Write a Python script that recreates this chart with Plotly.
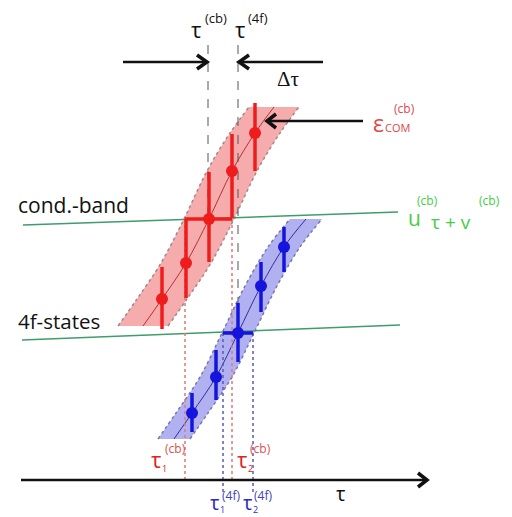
import plotly.graph_objects as go

# ---- diagram data (tau horizontal, energy vertical; units = diagram units) ----
red_tau = [162, 186, 209, 232, 255]
red_E = [218, 254, 298, 346, 384]
red_err_up = [32, 44, 47, 37, 30]
red_err_dn = [30, 35, 43, 47, 38]
red_xerr_lo = [0, 0, 24, 0, 0]
red_xerr_hi = [0, 0, 23, 0, 0]

blue_tau = [192, 216, 238, 261, 284]
blue_E = [104, 140, 184, 231, 270]
blue_err_up = [20, 27, 30, 24, 20]
blue_err_dn = [19, 23, 29, 26, 25]
blue_xerr_lo = [0, 0, 15, 0, 0]
blue_xerr_hi = [0, 0, 15, 0, 0]

red_band_tau = [143, 162, 186, 209, 232, 255, 274]
red_band_E = [191, 218, 254, 298, 346, 384, 410]
red_half = 25
blue_band_tau = [174, 192, 216, 238, 261, 284, 306]
blue_band_E = [78, 104, 140, 184, 231, 270, 298]
blue_half = 16

cb_line_tau = [23, 398]
cb_line_E = [292, 305]
f4_line_tau = [22, 400]
f4_line_E = [177, 192]

tau_cb, tau_4f = 208, 238
tau1_cb, tau2_cb = 185, 232
tau1_4f, tau2_4f = 223, 253
E_top = 472
E_axis = 37
E_bar_red = 298
E_bar_blue = 184

RED = "#ee1c1c"
BLUE = "#1414dc"
GREEN_LINE = "#3f9c6c"
GREEN_TXT = "#46cc46"

fig = go.Figure()

def band(tc, ec, half, fill, edge):
    left = [t - half for t in tc]
    right = [t + half for t in tc]
    fig.add_trace(go.Scatter(x=left, y=ec, mode="lines",
                             line=dict(color=edge, width=1.5, dash="dot", shape="spline"),
                             hoverinfo="skip"))
    fig.add_trace(go.Scatter(x=right, y=ec, mode="lines", fill="tonextx", fillcolor=fill,
                             line=dict(color=edge, width=1.5, dash="dot", shape="spline"),
                             hoverinfo="skip"))

band(red_band_tau, red_band_E, red_half, "rgba(238,95,95,0.52)", "#a08888")
band(blue_band_tau, blue_band_E, blue_half, "rgba(100,100,230,0.5)", "#7878a8")

fig.add_trace(go.Scatter(x=red_band_tau, y=red_band_E, mode="lines",
                         line=dict(color="#b83030", width=1, shape="spline")))
fig.add_trace(go.Scatter(x=blue_band_tau, y=blue_band_E, mode="lines",
                         line=dict(color="#30309a", width=1, shape="spline")))

# green lines
fig.add_trace(go.Scatter(x=cb_line_tau, y=cb_line_E, mode="lines",
                         line=dict(color=GREEN_LINE, width=1.5)))
fig.add_trace(go.Scatter(x=f4_line_tau, y=f4_line_E, mode="lines",
                         line=dict(color=GREEN_LINE, width=1.5)))

# dashed verticals tau^(cb), tau^(4f)
fig.add_trace(go.Scatter(x=[tau_cb, tau_cb], y=[E_top, E_bar_red], mode="lines",
                         line=dict(color="#555555", width=1, dash="dash")))
fig.add_trace(go.Scatter(x=[tau_4f, tau_4f], y=[E_top, E_bar_blue], mode="lines",
                         line=dict(color="#555555", width=1, dash="dash")))

# dotted drop lines
for t in (tau1_cb, tau2_cb):
    fig.add_trace(go.Scatter(x=[t, t], y=[E_bar_red, E_axis - 3], mode="lines",
                             line=dict(color="#e07878", width=1.5, dash="dot")))
for t in (tau1_4f, tau2_4f):
    fig.add_trace(go.Scatter(x=[t, t], y=[E_bar_blue, E_axis - 12], mode="lines",
                             line=dict(color="#5a5ab8", width=1.5, dash="dot")))

# points with error bars
fig.add_trace(go.Scatter(x=red_tau, y=red_E, mode="markers",
                         marker=dict(color=RED, size=12),
                         error_y=dict(type="data", array=red_err_up, arrayminus=red_err_dn,
                                      color=RED, thickness=3.5, width=0),
                         error_x=dict(type="data", array=red_xerr_hi, arrayminus=red_xerr_lo,
                                      color=RED, thickness=3.5, width=0)))
fig.add_trace(go.Scatter(x=blue_tau, y=blue_E, mode="markers",
                         marker=dict(color=BLUE, size=12),
                         error_y=dict(type="data", array=blue_err_up, arrayminus=blue_err_dn,
                                      color=BLUE, thickness=3.5, width=0),
                         error_x=dict(type="data", array=blue_xerr_hi, arrayminus=blue_xerr_lo,
                                      color=BLUE, thickness=3.5, width=0)))

# arrows (shaft + chevron head)
def arrow(x0, x1, y, head=10, spread=7, width=2.5, color="#111111"):
    d = 1 if x1 > x0 else -1
    fig.add_trace(go.Scatter(x=[x0, x1], y=[y, y], mode="lines",
                             line=dict(color=color, width=width)))
    fig.add_trace(go.Scatter(x=[x1 - d * head, x1, x1 - d * head],
                             y=[y + spread, y, y - spread], mode="lines",
                             line=dict(color=color, width=width + 1)))

arrow(123, 207, 455)
arrow(323, 239, 455)
arrow(363, 267, 396, head=9, spread=7)
arrow(21, 427, E_axis, head=9, spread=7, width=2.5)

ann = []
def txt(x, y, s, size, color="#111111", xanchor="left", family="Open Sans"):
    ann.append(dict(x=x, y=y, xref="x", yref="y", text=s, showarrow=False,
                    xanchor=xanchor, yanchor="middle",
                    font=dict(size=size, color=color, family=family)))

txt(16, 312, "cond.-band", 21)
txt(16, 196, "4f-states", 20.5)

txt(196, 488, "τ", 22, xanchor="center")
txt(203, 499, "(cb)", 13)
txt(240, 488, "τ", 22, xanchor="center")
txt(246, 499, "(4f)", 13)
txt(288, 438, "Δτ", 21, xanchor="center", family="Liberation Serif, DejaVu Serif, serif")

txt(371, 394, "ε", 23, color="#e04848")
txt(383, 390, "COM", 11, color="#e04848")
txt(392, 409, "(cb)", 12, color="#e04848")

txt(406, 299, "u", 21, color=GREEN_TXT)
txt(415, 317, "(cb)", 12, color=GREEN_TXT)
txt(429, 295, "τ + v", 19, color=GREEN_TXT)
txt(477, 317, "(cb)", 12, color=GREEN_TXT)

txt(156, 58, "τ", 22, color="#dd2222", xanchor="center")
txt(160, 49, "1", 9, color="#dd2222")
txt(163, 69, "(cb)", 12, color="#dd5050")
txt(242, 58, "τ", 22, color="#dd2222", xanchor="center")
txt(246, 49, "2", 9, color="#dd2222")
txt(248, 69, "(cb)", 12, color="#dd5050")

txt(214, 15, "τ", 20, color="#2b2bc0", xanchor="center")
txt(218, 8, "1", 9, color="#2b2bc0")
txt(220, 22, "(4f)", 12, color="#4040c0")
txt(247, 15, "τ", 20, color="#2b2bc0", xanchor="center")
txt(251, 8, "2", 9, color="#2b2bc0")
txt(252, 22, "(4f)", 12, color="#4040c0")

txt(340, 24, "τ", 20, xanchor="center")

fig.update_layout(
    width=512, height=517, margin=dict(l=0, r=0, t=0, b=0),
    paper_bgcolor="white", plot_bgcolor="white", showlegend=False,
    xaxis=dict(range=[0, 512], visible=False, fixedrange=True),
    yaxis=dict(range=[0, 517], visible=False, fixedrange=True),
    annotations=ann,
)
fig.write_html("out.html", config={"displayModeBar": False},
               post_script="document.body.style.margin='0';document.body.style.overflow='hidden';")
